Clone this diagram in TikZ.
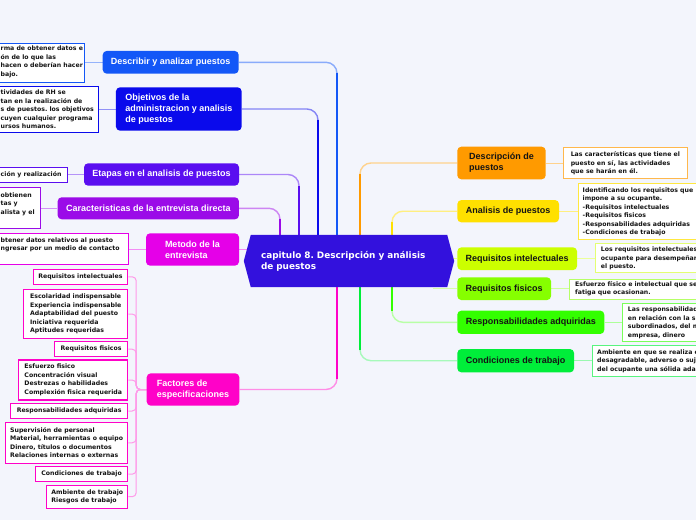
\documentclass[tikz,border=0pt]{standalone}
\usepackage{fontspec}
\setmainfont{Liberation Sans}
\newfontfamily\dejavu{DejaVu Sans}
\usetikzlibrary{calc,backgrounds}
\frenchspacing
\definecolor{bgc}{HTML}{F3F5FC}
\definecolor{cDesc}{HTML}{1357F7}
\definecolor{cObj}{HTML}{0A0AEC}
\definecolor{cEta}{HTML}{5A0EF0}
\definecolor{cCar}{HTML}{9B0BE8}
\definecolor{cMet}{HTML}{E500E8}
\definecolor{cFac}{HTML}{FF02C8}
\definecolor{cDsp}{HTML}{FF9A00}
\definecolor{cAna}{HTML}{FFE000}
\definecolor{cRqi}{HTML}{CCFF00}
\definecolor{cRqf}{HTML}{86FF00}
\definecolor{cRes}{HTML}{33FF00}
\definecolor{cCon}{HTML}{00EE3A}
\definecolor{cCen}{HTML}{3311DD}
\definecolor{ink}{HTML}{141414}
\tikzset{
  mainnode/.style={rounded corners=4pt, font=\bfseries\fontsize{9}{11}\selectfont, align=left, inner xsep=6pt, inner ysep=0pt},
  mainL/.style={mainnode, text=white},
  mainR/.style={mainnode, text=ink},
  centralbox/.style={text=white, font=\dejavu\bfseries\fontsize{8.9}{11}\selectfont, align=left, text width=176pt, inner xsep=17pt, inner ysep=0pt, minimum width=210pt, minimum height=52pt},
  leafbox/.style={draw, line width=1.1pt, fill=white, inner sep=0pt},
  leaftext/.style={font=\dejavu\bfseries\fontsize{6.2}{8.5}\selectfont, text=ink, align=left, inner sep=0pt},
  leaf/.style={leafbox, leaftext, inner xsep=3pt},
  brlight/.style={line width=1.4pt, rounded corners=11pt},
  brstrong/.style={line width=1.4pt, shorten >=11pt},
  leafline/.style={line width=1pt},
  facline/.style={line width=1pt, rounded corners=4pt, draw=cFac!40!white}
}
\begin{document}
\begin{tikzpicture}[x=1pt,y=-1pt]
\useasboundingbox (0,0) rectangle (696,520);
% central
\node[centralbox] (central) at (349,261) {capitulo 8. Descripción y análisis\\de puestos};
% left main nodes
\node[mainL, fill=cDesc, minimum width=136pt, minimum height=22.7pt] (desc) at (170.7,62.3) {Describir y analizar puestos};
\node[mainL, fill=cObj, minimum width=125.7pt, minimum height=43.3pt] (obj) at (178.8,109) {Objetivos de la\\administracion y analisis\\de puestos};
\node[mainL, fill=cEta, minimum width=155pt, minimum height=22.3pt] (eta) at (161.5,174.5) {Etapas en el analisis de puestos};
\node[mainL, fill=cCar, minimum width=181.3pt, minimum height=22pt] (car) at (148.3,208.3) {Caracteristicas de la entrevista directa};
\node[mainL, fill=cMet, minimum width=93pt, minimum height=32.3pt] (met) at (192.5,249.5) {Metodo de la\\entrevista};
\node[mainL, fill=cFac, minimum width=92.6pt, minimum height=32.3pt] (fac) at (193,389.5) {Factores de\\especificaciones};
% right main nodes
\node[mainR, fill=cDsp, minimum width=88.4pt, minimum height=32.6pt] (dsp) at (501.5,163) {Descripción de\\puestos};
\node[mainR, fill=cAna, minimum width=101.7pt, minimum height=22.3pt] (ana) at (508.2,211.2) {Analisis de puestos};
\node[mainR, fill=cRqi, minimum width=119.7pt, minimum height=22.7pt] (rqi) at (517.2,258.7) {Requisitos intelectuales};
\node[mainR, fill=cRqf, minimum width=93.7pt, minimum height=22.7pt] (rqf) at (504.2,288.7) {Requisitos fisicos};
\node[mainR, fill=cRes, minimum width=147pt, minimum height=23.3pt] (res) at (530.8,322.3) {Responsabilidades adquiridas};
\node[mainR, fill=cCon, minimum width=116.7pt, minimum height=23.3pt] (con) at (515.7,360.7) {Condiciones de trabajo};
% left leaves (clipped at the left edge)
\node[leafbox, draw=cDesc, anchor=north west, minimum width=88.3pt, minimum height=39pt] (dL) at (-4,43) {};
\node[leaftext, anchor=west] (dLt) at (0.5,61.8) {rma de obtener datos e\\ón de lo que las\\hacen o deberían hacer\\bajo.};
\node[leafbox, draw=cObj, anchor=north west, minimum width=101.7pt, minimum height=46.6pt] (oL) at (-4,85.7) {};
\node[leaftext, anchor=west] (oLt) at (0.5,109.2) {tividades de RH se\\tan en la realización de\\s de puestos. los objetivos\\cuyen cualquier programa\\ursos humanos.};
\node[leafbox, draw=cEta, anchor=north west, minimum width=70.7pt, minimum height=15pt] (eL) at (-4,167.3) {};
\node[leaftext, anchor=west] (eLt) at (0.5,174.8) {ción y realización};
\node[leafbox, draw=cCar, anchor=north west, minimum width=44pt, minimum height=40.4pt] (cL) at (-4,187.3) {};
\node[leaftext, anchor=west] (cLt) at (0.5,204) {obtienen\\tas y\\alista y el};
\node[leafbox, draw=cMet, anchor=north west, minimum width=131.7pt, minimum height=31pt] (mL) at (-4,233.3) {};
\node[leaftext, anchor=west] (mLt) at (0.5,244.8) {btener datos relativos al puesto\\ngresar por un medio de contacto};
% factores children
\node[leaf, draw=cFac, anchor=east, minimum width=94.7pt, minimum height=15pt] (f1) at (128.3,276.8) {Requisitos intelectuales};
\node[leaf, draw=cFac, anchor=east, minimum width=104pt, minimum height=49.4pt] (f2) at (128.3,314) {Escolaridad indispensable\\Experiencia indispensable\\Adaptabilidad del puesto\\Iniciativa requerida\\Aptitudes requeridas};
\node[leaf, draw=cFac, anchor=east, minimum width=73.3pt, minimum height=15pt] (f3) at (128.3,349.2) {Requisitos fisicos};
\node[leaf, draw=cFac, anchor=east, minimum width=109pt, minimum height=40pt] (f4) at (128.3,380) {Esfuerzo fisico\\Concentración visual\\Destrezas o habilidades\\Complexión fisica requerida};
\node[leaf, draw=cFac, anchor=east, minimum width=117.3pt, minimum height=15.4pt] (f5) at (128.3,411) {Responsabilidades adquiridas};
\node[leaf, draw=cFac, anchor=east, minimum width=122.3pt, minimum height=41pt] (f6) at (128.3,442.8) {Supervisión de personal\\Material, herramientas o equipo\\Dinero, títulos o documentos\\Relaciones internas o externas};
\node[leaf, draw=cFac, anchor=east, minimum width=92.3pt, minimum height=15pt] (f7) at (128.3,474.2) {Condiciones de trabajo};
\node[leaf, draw=cFac, anchor=east, minimum width=81pt, minimum height=23.3pt] (f8) at (128.3,496.7) {Ambiente de trabajo\\Riesgos de trabajo};
% right leaves
\node[leaf, draw=cDsp!70!white, anchor=north west, minimum width=123.7pt, minimum height=31.3pt] (dpL) at (563,147) {Las características que tiene el\\puesto en sí, las actividades\\que se harán en él.};
\node[leafbox, draw=cAna!75!white, anchor=north west, minimum width=125pt, minimum height=56pt] (aL) at (577.5,183.3) {};
\node[leaftext, anchor=west] (aLt) at (582.5,211.8) {Identificando los requisitos que\\impone a su ocupante.\\-Requisitos intelectuales\\-Requisitos fisicos\\-Responsabilidades adquiridas\\-Condiciones de trabajo};
\node[leafbox, draw=cRqi!55!white, anchor=north west, minimum width=107pt, minimum height=29pt] (qL) at (595,243.3) {};
\node[leaftext, anchor=west] (qLt) at (600.7,258.3) {Los requisitos intelectuales e\\ocupante para desempeñar a\\el puesto.};
\node[leafbox, draw=cRqf!60!white, anchor=north west, minimum width=133pt, minimum height=20pt] (fL) at (569.3,279.3) {};
\node[leaftext, anchor=west] (fLt) at (575,288.6) {Esfuerzo físico e intelectual que se r\\fatiga que ocasionan.};
\node[leafbox, draw=cRes!65!white, anchor=north west, minimum width=80pt, minimum height=37.7pt] (rL) at (622,303) {};
\node[leaftext, anchor=west] (rLt) at (627.7,322.7) {Las responsabilidade\\en relación con la su\\subordinados, del m\\empresa, dinero};
\node[leafbox, draw=cCon!65!white, anchor=north west, minimum width=110pt, minimum height=31pt] (nL) at (592,345) {};
\node[leaftext, anchor=west] (nLt) at (597,360.8) {Ambiente en que se realiza el\\desagradable, adverso o sujet\\del ocupante una sólida adapt};
\begin{pgfonlayer}{background}
\fill[bgc] (0,0) rectangle (696,520);
% anchor points on central node
\coordinate (cA) at ($(central.north)+(-12,0)$);
\coordinate (cB) at ($(central.north)+(-31,0)$);
\coordinate (cC) at ($(central.north)+(-50,0)$);
\coordinate (cD) at ($(central.north)+(-69,0)$);
\coordinate (cE) at ($(central.north)+(11,0)$);
\coordinate (cF) at ($(central.north)+(43,0)$);
\coordinate (cG) at ($(central.south)+(-12,0)$);
\coordinate (cH) at ($(central.south)+(11,0)$);
\coordinate (cI) at ($(central.south)+(43,0)$);
% main branches
\draw[brlight, draw=cDesc!50!white] (cA) |- (desc.east);
\draw[brstrong, draw=cDesc] (cA) -- (cA |- desc.east);
\draw[brlight, draw=cObj!50!white] (cB) |- (obj.east);
\draw[brstrong, draw=cObj] (cB) -- (cB |- obj.east);
\draw[brlight, draw=cEta!50!white] (cC) |- (eta.east);
\draw[brstrong, draw=cEta] (cC) -- (cC |- eta.east);
\draw[brlight, draw=cCar!50!white] (cD) |- (car.east);
\draw[brstrong, draw=cCar] (cD) -- (cD |- car.east);
\draw[line width=1.4pt, draw=cMet!45!white] (met.east) -- ($(met.east -| central.west)+(6,0)$);
\draw[brlight, draw=cFac!45!white] (cG) |- (fac.east);
\draw[brstrong, draw=cFac] (cG) -- (cG |- fac.east);
\draw[brlight, draw=cDsp!45!white] (cE) |- (dsp.west);
\draw[brstrong, draw=cDsp] (cE) -- (cE |- dsp.west);
\draw[brlight, draw=cAna!50!white] (cF) |- (ana.west);
\draw[brstrong, draw=cAna] (cF) -- (cF |- ana.west);
\draw[line width=1.4pt, draw=cRqi!45!white] (rqi.west) -- ($(rqi.west -| central.east)+(-6,0)$);
\draw[line width=1.4pt, draw=cRqf!35!white] (rqf.west) -- ++(-24,0);
\draw[brlight, draw=cRes!35!white] (cI) |- (res.west);
\draw[brstrong, draw=cRes] (cI) -- (cI |- res.west);
\draw[brlight, draw=cCon!35!white] (cH) |- (con.west);
\draw[brstrong, draw=cCon] (cH) -- (cH |- con.west);
% leaf connectors
\draw[leafline, draw=cDesc!45!white] (desc.west) -- (desc.west -| dL.east);
\draw[leafline, draw=cObj!45!white] (obj.west) -- (obj.west -| oL.east);
\draw[leafline, draw=cEta!45!white] (eta.west) -- (eta.west -| eL.east);
\draw[leafline, draw=cCar!45!white] (car.west) -- (car.west -| cL.east);
\draw[leafline, draw=cMet!45!white] (met.west) -- (met.west -| mL.east);
\draw[leafline, draw=cDsp!45!white] (dsp.east) -- (dsp.east -| dpL.west);
\draw[leafline, draw=cAna!50!white] (ana.east) -- (ana.east -| aL.west);
\draw[leafline, draw=cRqi!40!white] (rqi.east) -- (rqi.east -| qL.west);
\draw[leafline, draw=cRqf!40!white] (rqf.east) -- (rqf.east -| fL.west);
\draw[leafline, draw=cRes!40!white] (res.east) -- (res.east -| rL.west);
\draw[leafline, draw=cCon!40!white] (con.east) -- (con.east -| nL.west);
% factores tree
\foreach \c in {f1,f2,f3,f4,f5,f6,f7,f8}{
  \draw[facline] (fac.west) -- ++(-10.3,0) |- (\c.east);
}
% central hexagon
\fill[cCen] ($(central.north west)+(7,0)$) -- ($(central.north east)+(-7,0)$) -- (central.east) -- ($(central.south east)+(-7,0)$) -- ($(central.south west)+(7,0)$) -- (central.west) -- cycle;
\end{pgfonlayer}
\end{tikzpicture}
\end{document}
